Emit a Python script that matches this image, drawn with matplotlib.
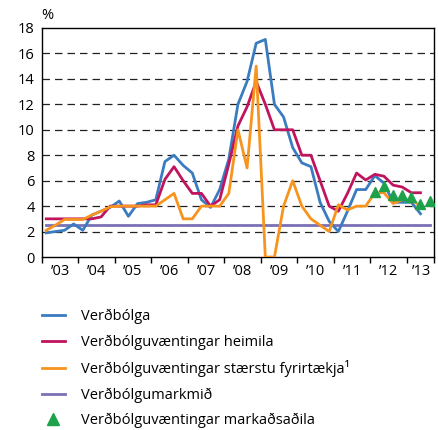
import numpy as np
import matplotlib
matplotlib.use("Agg")
import matplotlib.pyplot as plt
from matplotlib.lines import Line2D

plt.rcParams["font.family"] = ["Open Sans", "DejaVu Sans"]

# ── Data (quarterly, 2003Q1 .. 2013Q3) ───────────────────────────────────
verdbolga = [1.9, 2.0, 2.1, 2.6, 2.1, 3.3, 3.6, 3.9, 4.4, 3.2, 4.2, 4.3,
             4.5, 7.5, 8.0, 7.2, 6.6, 4.5, 3.9, 5.3, 7.7, 12.0, 13.8, 16.8,
             17.1, 12.0, 11.0, 8.6, 7.4, 7.1, 4.3, 2.8, 2.0, 3.6, 5.3, 5.3,
             6.4, 5.8, 4.3, 4.3, 4.3, 3.4]
heimila = [3.0, 3.0, 3.0, 3.0, 3.0, 3.0, 3.15, 4.0, 4.0, 4.0, 4.0, 4.1,
           4.1, 6.1, 7.1, 6.0, 5.0, 5.0, 4.0, 4.5, 7.3, 10.3, 11.8, 13.8,
           12.0, 10.0, 10.0, 10.0, 8.0, 8.0, 6.0, 4.0, 3.6, 5.0, 6.6, 6.05,
           6.5, 6.35, 5.65, 5.5, 5.05, 5.05]
fyrirtaekja = [2.1, 2.5, 2.95, 2.95, 2.95, 3.3, 3.6, 3.95, 4.0, 4.0, 4.0, 4.0,
               4.0, 4.5, 5.0, 3.0, 3.0, 4.0, 4.0, 4.0, 5.0, 10.0, 7.0, 15.0,
               0.0, 0.0, 4.0, 6.0, 4.0, 3.0, 2.5, 2.0, 4.1, 3.7, 4.0, 4.0,
               5.05, 5.05, 4.2, 4.5, 4.5, 4.0]
markmid = [2.5] * 43
markadsadila = [5.1, 5.6, 4.9, 4.9, 4.7, 4.2, 4.4]   # 2012Q1 .. 2013Q3

years = list(range(2003, 2014))
year_labels = ["\u2019" + str(y)[2:] for y in years]

q = lambda n, start=0: 2003 + (np.arange(start, start + n) + 0.5) / 4.0

c_blue = "#3b7cc0"
c_red = "#c0145e"
c_orange = "#f7941e"
c_purple = "#7a70b6"
c_green = "#1ea14b"

fig = plt.figure(figsize=(4.39, 4.30), dpi=100)
ax = fig.add_axes([0.095, 0.4023, 0.894, 0.5326])

lw = 2.0
ax.plot(q(len(markmid)), markmid, color=c_purple, lw=lw, zorder=2)
ax.plot(q(len(verdbolga)), verdbolga, color=c_blue, lw=lw, zorder=3)
ax.plot(q(len(heimila)), heimila, color=c_red, lw=lw, zorder=4)
ax.plot(q(len(fyrirtaekja)), fyrirtaekja, color=c_orange, lw=lw, zorder=5)
ax.plot(q(len(markadsadila), 36), markadsadila, ls="none", marker="^",
        color=c_green, ms=7, zorder=6)

ax.set_xlim(2003, 2013.75)
ax.set_ylim(0, 18)
ax.set_yticks(range(0, 19, 2))
for y in range(2, 18, 2):
    ax.axhline(y, color="#222222", lw=0.9, ls=(0, (6, 4)), zorder=1)

ax.set_xticks(years + [2013.75])
ax.set_xticklabels([])
ax.set_xticks([y + 0.5 for y in years[:-1]] + [2013.4], minor=True)
ax.set_xticklabels(year_labels, minor=True)
ax.tick_params(axis="x", which="major", direction="out", length=4, width=1.0)
ax.tick_params(axis="x", which="minor", length=0, pad=5, labelsize=10.5)
ax.tick_params(axis="y", length=0, pad=5, labelsize=10.5)
for sp in ax.spines.values():
    sp.set_linewidth(1.0)
    sp.set_color("black")

fig.text(0.094, 0.965, "%", fontsize=10.5, ha="left", va="center")

handles = [
    Line2D([], [], color=c_blue, lw=lw),
    Line2D([], [], color=c_red, lw=lw),
    Line2D([], [], color=c_orange, lw=lw),
    Line2D([], [], color=c_purple, lw=lw),
    Line2D([], [], color=c_green, ls="none", marker="^", ms=8),
]
labels = ["Verðbólga", "Verðbólguvæntingar heimila",
          "Verðbólguvæntingar stærstu fyrirtækja\u00b9", "Verðbólgumarkmið",
          "Verðbólguvæntingar markaðsaðila"]
fig.legend(handles, labels, loc="upper left", bbox_to_anchor=(0.095, 0.281),
           frameon=False, fontsize=10.5, handlelength=1.6, handletextpad=1.1,
           labelspacing=0.7, borderpad=0, borderaxespad=0)

fig.savefig("out.png", dpi=100)
